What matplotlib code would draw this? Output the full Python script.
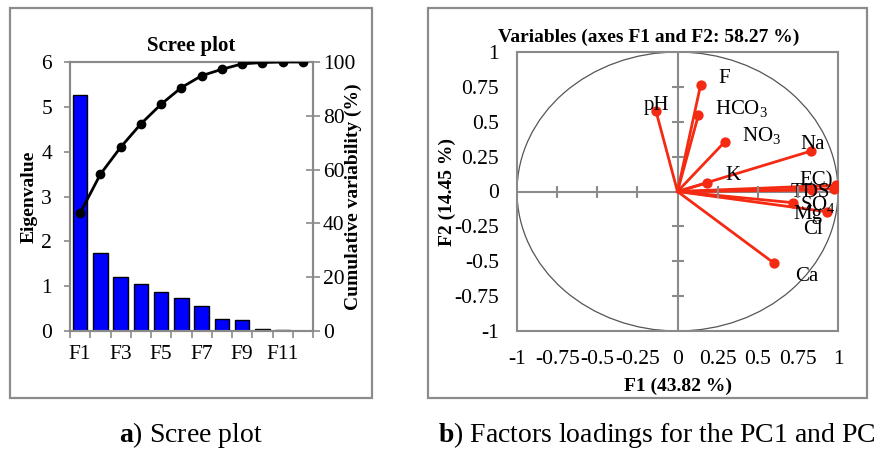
import matplotlib
matplotlib.use("Agg")
import matplotlib.pyplot as plt
from matplotlib.patches import Rectangle, Circle
from matplotlib.ticker import FixedLocator, NullFormatter
import numpy as np

plt.rcParams['font.family'] = ['Liberation Serif', 'DejaVu Serif']
plt.rcParams['mathtext.fontset'] = 'custom'
plt.rcParams['mathtext.rm'] = 'Liberation Serif'
plt.rcParams['mathtext.it'] = 'Liberation Serif:italic'
plt.rcParams['mathtext.bf'] = 'Liberation Serif:bold'

# ---- data: scree plot ----
factors = ['F1', 'F2', 'F3', 'F4', 'F5', 'F6', 'F7', 'F8', 'F9', 'F10', 'F11', 'F12']
eigenvalues = [5.26, 1.73, 1.20, 1.05, 0.87, 0.74, 0.55, 0.27, 0.24, 0.05, 0.02, 0.01]
cumulative = [43.82, 58.27, 68.3, 77.0, 84.3, 90.5, 94.9, 97.3, 99.3, 99.8, 100.0, 100.0]
scree_xticklabels = ['F1', 'F3', 'F5', 'F7', 'F9', 'F11']

# ---- data: loadings ----
variables = ['pH', 'F', 'HCO$_\\mathregular{3}$', 'NO$_\\mathregular{3}$', 'Na', 'K',
             'EC)', 'TDS', 'SO$_\\mathregular{4}$', 'Mg', 'Cl', 'Ca']
f1_load = [-0.134, 0.144, 0.130, 0.293, 0.829, 0.181, 0.985, 0.975, 0.836, 0.718, 0.930, 0.603]
f2_load = [0.576, 0.764, 0.547, 0.354, 0.289, 0.060, 0.045, 0.020, 0.010, -0.080, -0.145, -0.515]
label_x = [-0.134, 0.289, 0.40, 0.526, 0.845, 0.346, 0.866, 0.825, 0.876, 0.814, 0.845, 0.804]
label_y = [0.62, 0.81, 0.595, 0.40, 0.337, 0.113, 0.077, -0.007, -0.09, -0.164, -0.272, -0.61]
load_ticks = [-1, -0.75, -0.5, -0.25, 0, 0.25, 0.5, 0.75, 1]
load_ticklabels = ['-1', '-0.75', '-0.5', '-0.25', '0', '0.25', '0.5', '0.75', '1']

W, H = 877, 450
fig = plt.figure(figsize=(W / 100, H / 100), dpi=100)

def fx(px):
    return px / W

def fy(py):
    return 1 - py / H

# outer frames
for (x0, y0, x1, y1) in [(10, 8, 372, 398), (428, 8, 867, 398)]:
    fig.patches.append(Rectangle((fx(x0), fy(y1)), fx(x1 - x0), (y1 - y0) / H,
                                 transform=fig.transFigure, fill=False,
                                 edgecolor='#8c8c8c', linewidth=1.6))

gray = '#8a8a8a'
tick_fs = 15.5
lab_fs = 14

# ---------------- Scree plot ----------------
ax1 = fig.add_axes([fx(70), fy(331), fx(313 - 70), (331 - 62) / H])
x = np.arange(len(factors))
ax1.bar(x, eigenvalues, width=0.72, color='#0000ff', edgecolor='black', linewidth=1.0, zorder=2)
ax1.set_xlim(-0.5, len(factors) - 0.5)
ax1.set_ylim(0, 6)
ax1.set_yticks(range(0, 7))
ax1.tick_params(axis='y', direction='out', length=4, width=1.2, color=gray, labelsize=tick_fs, pad=9)
ax1.set_xticks(x[::2])
ax1.set_xticklabels(scree_xticklabels)
ax1.tick_params(axis='x', which='major', length=0, labelsize=tick_fs, pad=10)
ax1.xaxis.set_minor_locator(FixedLocator(np.arange(-0.5, len(factors), 1.0)))
ax1.tick_params(axis='x', which='minor', direction='out', length=5, width=1.2, color=gray)
for s in ax1.spines.values():
    s.set_color(gray)
    s.set_linewidth(1.5)
ax1.set_ylabel('Eigenvalue', fontsize=lab_fs, fontweight='bold')
ax1.yaxis.set_label_coords(-0.135, 0.5)
ax1.set_title('Scree plot', fontsize=15, fontweight='bold', pad=8)

ax2 = ax1.twinx()
ax2.plot(x, cumulative, color='black', linewidth=2, marker='o', markersize=6, zorder=3)
ax2.set_ylim(0, 100)
ax2.set_yticks(range(0, 101, 20))
ax2.tick_params(axis='y', direction='inout', length=10, width=1.2, color=gray, labelsize=tick_fs, pad=2)
for s in ax2.spines.values():
    s.set_color(gray)
    s.set_linewidth(1.5)
ax2.set_ylabel('Cumulative variability (%)', fontsize=lab_fs, fontweight='bold')
ax2.yaxis.set_label_coords(1.13, 0.5)

# ---------------- Loadings plot ----------------
ax3 = fig.add_axes([fx(517), fy(331), fx(838 - 517), (331 - 52) / H])
ax3.set_xlim(-1, 1)
ax3.set_ylim(-1, 1)
ax3.set_xticks(load_ticks)
ax3.set_xticklabels(load_ticklabels)
ax3.set_yticks(load_ticks)
ax3.set_yticklabels(load_ticklabels)
ax3.tick_params(length=0, labelsize=tick_fs)
ax3.tick_params(axis='x', pad=14)
ax3.tick_params(axis='y', pad=13)
for s in ax3.spines.values():
    s.set_color(gray)
    s.set_linewidth(1.5)
ax3.add_patch(Circle((0, 0), 1, fill=False, edgecolor='#555555', linewidth=0.9, zorder=1))
ax3.axhline(0, color=gray, linewidth=1.5, zorder=1)
ax3.axvline(0, color=gray, linewidth=1.5, zorder=1)
ax3.set_xlabel('F1 (43.82 %)', fontsize=lab_fs, fontweight='bold', labelpad=6)
ax3.set_ylabel('F2 (14.45 %)', fontsize=lab_fs, fontweight='bold')
ax3.yaxis.set_label_coords(-0.19, 0.5)
ax3.set_title('Variables (axes F1 and F2: 58.27 %)', fontsize=14, fontweight='bold',
              pad=7, x=0.41)

# crossing tick marks on the zero axes via an overlay axes
ax4 = fig.add_axes(ax3.get_position(), frameon=True, facecolor='none')
ax4.set_xlim(-1, 1)
ax4.set_ylim(-1, 1)
for k in ['top', 'right', 'left', 'bottom']:
    ax4.spines[k].set_visible(False)
ax4.spines['left'].set_position(('data', 0))
ax4.spines['bottom'].set_position(('data', 0))
inner = [t for t in load_ticks if abs(t) not in (0, 1)]
ax4.set_xticks(inner)
ax4.set_yticks(inner)
ax4.xaxis.set_major_formatter(NullFormatter())
ax4.yaxis.set_major_formatter(NullFormatter())
ax4.tick_params(direction='inout', length=9, width=1.5, color=gray)

red = '#f52a12'
for xi, yi in zip(f1_load, f2_load):
    ax3.plot([0, xi], [0, yi], color=red, linewidth=2, zorder=3)
ax3.scatter(f1_load, f2_load, s=55, color=red, zorder=4, linewidths=0)
for name, lx, ly in zip(variables, label_x, label_y):
    ax3.text(lx, ly, name, fontsize=15, ha='center', va='center', zorder=5)

# ---------------- captions ----------------
fig.text(fx(191), fy(435), r'$\mathbf{a}$) Scree plot', fontsize=20, ha='center', va='center')
fig.text(fx(438), fy(435), r'$\mathbf{b}$) Factors loadings for the PC1 and PC2',
         fontsize=20, ha='left', va='center')

fig.savefig('out.png', dpi=100)
